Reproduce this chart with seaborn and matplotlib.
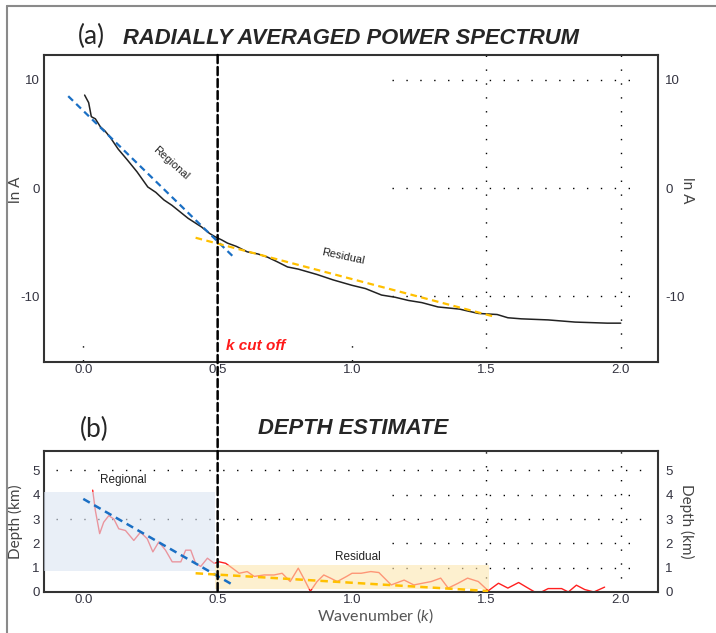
"""
Radially averaged power spectrum and depth estimate
"""

import matplotlib
matplotlib.use("Agg")

import matplotlib.pyplot as plt
import seaborn as sns
from matplotlib.patches import ConnectionPatch
from matplotlib.lines import Line2D

##########################################################
# Data
##########################################################

# (a) power spectrum
k_spec = [0.005, 0.02, 0.03, 0.045, 0.064, 0.08, 0.10, 0.13, 0.164, 0.20,
          0.24, 0.27, 0.30, 0.33, 0.36, 0.39, 0.44, 0.47, 0.49, 0.515,
          0.537, 0.57, 0.61, 0.65, 0.686, 0.72, 0.76, 0.80, 0.87, 0.93,
          1.0, 1.05, 1.11, 1.16, 1.21, 1.26, 1.32, 1.40, 1.47, 1.54,
          1.58, 1.63, 1.73, 1.83, 1.95, 2.0]
lnA_spec = [8.6, 7.9, 6.6, 6.4, 5.65, 5.3, 4.7, 3.6, 2.6, 1.5,
            0.1, -0.4, -1.1, -1.6, -2.2, -2.8, -3.6, -4.2, -4.5, -4.8,
            -5.1, -5.4, -5.9, -6.1, -6.4, -6.8, -7.3, -7.5, -8.0, -8.5,
            -9.0, -9.3, -9.9, -10.1, -10.4, -10.6, -11.0, -11.2, -11.6, -11.7,
            -12.0, -12.1, -12.2, -12.4, -12.5, -12.5]

reg_top_k = [-0.056, 0.556]
reg_top_lnA = [8.5, -6.3]
res_top_k = [0.418, 1.53]
res_top_lnA = [-4.6, -11.9]

# (b) depth estimate
k_depth = [0.035, 0.045, 0.061, 0.076, 0.095, 0.114, 0.132, 0.157, 0.188, 0.213,
           0.238, 0.259, 0.281, 0.306, 0.331, 0.363, 0.381, 0.40, 0.418, 0.437,
           0.462, 0.487, 0.506, 0.53, 0.555, 0.58, 0.61, 0.636, 0.673, 0.71,
           0.74, 0.77, 0.80, 0.82, 0.845, 0.87, 0.895, 0.92, 0.945, 0.98,
           1.0, 1.034, 1.07, 1.10, 1.146, 1.194, 1.23, 1.295, 1.33, 1.358,
           1.395, 1.43, 1.47, 1.507, 1.545, 1.58, 1.62, 1.655, 1.68, 1.705,
           1.73, 1.78, 1.805, 1.835, 1.866, 1.90, 1.94]
depth = [4.19, 3.35, 2.4, 2.87, 3.14, 3.0, 2.6, 2.53, 2.12, 2.46,
         2.19, 1.65, 2.06, 1.72, 1.24, 1.24, 1.72, 1.72, 1.18, 1.05,
         1.39, 1.18, 1.24, 1.18, 0.98, 0.77, 0.84, 0.64, 0.70, 0.70,
         0.77, 0.43, 0.98, 0.57, 0.03, 0.43, 0.70, 0.57, 0.43, 0.64,
         0.77, 0.77, 0.84, 0.80, 0.29, 0.49, 0.29, 0.43, 0.57, 0.16,
         0.36, 0.57, 0.43, 0.05, 0.36, 0.16, 0.39, 0.16, 0.0, 0.0,
         0.14, 0.14, 0.0, 0.28, 0.10, 0.0, 0.20]

reg_bot_k = [0.0, 0.557]
reg_bot_d = [3.83, 0.29]
res_bot_k = [0.418, 1.507]
res_bot_d = [0.77, 0.04]

k_cutoff = 0.5
x_ticks = [0.0, 0.5, 1.0, 1.5, 2.0]

##########################################################
# Style
##########################################################

sns.set_style("white")
plt.rcParams["font.family"] = ["Liberation Sans", "DejaVu Sans"]
plt.rcParams["axes.unicode_minus"] = False
plt.rcParams["mathtext.fontset"] = "custom"
plt.rcParams["mathtext.it"] = "Lato:italic"
plt.rcParams["mathtext.rm"] = "Lato"

TICK_COLOR = "#333340"
SPINE_COLOR = "#333333"
BLUE = "#1a6fc4"
GOLD = "#ffc000"
DOT = (0, (1, 9))

fig = plt.figure(figsize=(7.16, 6.33), dpi=100)

ax1 = fig.add_axes([0.0615, 0.428, 0.858, 0.485])
ax2 = fig.add_axes([0.0615, 0.0648, 0.858, 0.2227])

XLIM = (-0.146, 2.14)


def style_axes(ax, yticks, ylim, label, label_y):
    ax.set_xlim(XLIM)
    ax.set_ylim(ylim)
    ax.set_xticks(x_ticks)
    ax.set_yticks(yticks)
    ax.tick_params(axis="both", length=0, labelsize=9.5,
                   labelcolor=TICK_COLOR, pad=3)
    ax.tick_params(axis="x", pad=1.5)
    for s in ax.spines.values():
        s.set_color(SPINE_COLOR)
        s.set_linewidth(1.5)
    ax.set_ylabel(label, family="Lato", fontsize=11, color="#444444",
                  va="center")
    ax.yaxis.set_label_coords(-0.046, label_y)

    axr = ax.twinx()
    axr.set_ylim(ylim)
    axr.set_yticks(yticks)
    axr.tick_params(axis="y", length=0, labelsize=9.5,
                    labelcolor=TICK_COLOR, pad=5)
    for s in axr.spines.values():
        s.set_visible(False)
    axr.set_ylabel(label, family="Lato", fontsize=11, color="#444444",
                   rotation=270, va="center")
    axr.yaxis.set_label_coords(1.046, label_y)
    return axr


##########################################################
# (a) Radially averaged power spectrum
##########################################################

style_axes(ax1, [-10, 0, 10], (-16.1, 12.3), "ln A", 0.56)
ax1.set_xlabel("")

for y in [10, 0, -10]:
    ax1.hlines(y, 1.15, 2.06, colors="k", linestyles=DOT, lw=1)
for x in [1.5, 2.0]:
    ax1.vlines(x, -16.1, 12.3, colors="k", linestyles=DOT, lw=1)
for x in [0.0, 1.0]:
    ax1.vlines(x, -16.0, -14.4, colors="k", linestyles=DOT, lw=1)

sns.lineplot(x=k_spec, y=lnA_spec, ax=ax1, color="#222222", lw=1.1,
             zorder=3)
sns.lineplot(x=reg_top_k, y=reg_top_lnA, ax=ax1, color=BLUE, lw=1.6,
             linestyle=(0, (3, 2)), zorder=4)
sns.lineplot(x=res_top_k, y=res_top_lnA, ax=ax1, color=GOLD, lw=1.6,
             linestyle=(0, (3, 2)), zorder=4)

ax1.text(0.325, 2.3, "Regional", fontsize=8, rotation=-42,
         ha="center", va="center", color="#222222")
ax1.text(0.966, -6.3, "Residual", fontsize=8, rotation=-12,
         ha="center", va="center", color="#222222")
ax1.text(0.53, -14.6, "k cut off", fontsize=11, color="#ff1a1a",
         fontweight="bold", style="italic", ha="left", va="center")

##########################################################
# (b) Depth estimate
##########################################################

style_axes(ax2, [0, 1, 2, 3, 4, 5], (0, 5.8), "Depth (km)", 0.5)

for y in [5, 3]:
    ax2.hlines(y, -0.1, 2.1, colors="k", linestyles=DOT, lw=1)
for y in [4, 2, 1]:
    ax2.hlines(y, 1.15, 2.06, colors="k", linestyles=DOT, lw=1)
for x in [1.5, 2.0]:
    ax2.vlines(x, 0, 5.8, colors="k", linestyles=DOT, lw=1)

sns.lineplot(x=k_depth, y=depth, ax=ax2, color="#ff2020", lw=1.0, zorder=2)

ax2.fill_between([XLIM[0], 0.49], 0.85, 4.1, color="#dbe5f3", alpha=0.6,
                 lw=0, zorder=3)
ax2.fill_between([0.49, 1.51], 0.12, 1.1, color="#fde6b0", alpha=0.6,
                 lw=0, zorder=3)

sns.lineplot(x=reg_bot_k, y=reg_bot_d, ax=ax2, color=BLUE, lw=1.8,
             linestyle=(0, (3, 2)), zorder=4)
sns.lineplot(x=res_bot_k, y=res_bot_d, ax=ax2, color=GOLD, lw=1.8,
             linestyle=(0, (3, 2)), zorder=4)

ax2.text(0.15, 4.6, "Regional", fontsize=8.5, ha="center", va="center",
         color="#222222")
ax2.text(1.02, 1.43, "Residual", fontsize=8.5, ha="center", va="center",
         color="#222222")

ax2.set_xlabel("Wavenumber ($\\it{k}$)", family="Lato", fontsize=11.5,
               color="#555555", va="center")
ax2.xaxis.set_label_coords(0.54, -0.165)

##########################################################
# k cut off line across both panels
##########################################################

cut = ConnectionPatch(xyA=(k_cutoff, 12.3), coordsA=ax1.transData,
                      xyB=(k_cutoff, 0), coordsB=ax2.transData,
                      color="k", lw=1.8, linestyle=(0, (3.2, 1.6)), zorder=10)
fig.add_artist(cut)

##########################################################
# Titles
##########################################################

fig.text(78 / 716, 1 - 36 / 633, "(a)", family="Lato", fontsize=19,
         ha="left", va="center")
fig.text(123 / 716, 1 - 38 / 633, "RADIALLY AVERAGED POWER SPECTRUM",
         fontsize=15.8, fontweight="bold", style="italic",
         ha="left", va="center")
fig.text(80 / 716, 1 - 429 / 633, "(b)", family="Lato", fontsize=19,
         ha="left", va="center")
fig.text(258 / 716, 1 - 428 / 633, "DEPTH ESTIMATE",
         fontsize=15.8, fontweight="bold", style="italic",
         ha="left", va="center")

##########################################################
# Outer frame
##########################################################

fig.add_artist(Line2D([7 / 716, 7 / 716], [0, 1 - 6 / 633],
                      color="#8a8a8a", lw=1.5))
fig.add_artist(Line2D([7 / 716, 1], [1 - 6 / 633, 1 - 6 / 633],
                      color="#8a8a8a", lw=1.5))

fig.savefig("out.png", dpi=100)
plt.close(fig)
